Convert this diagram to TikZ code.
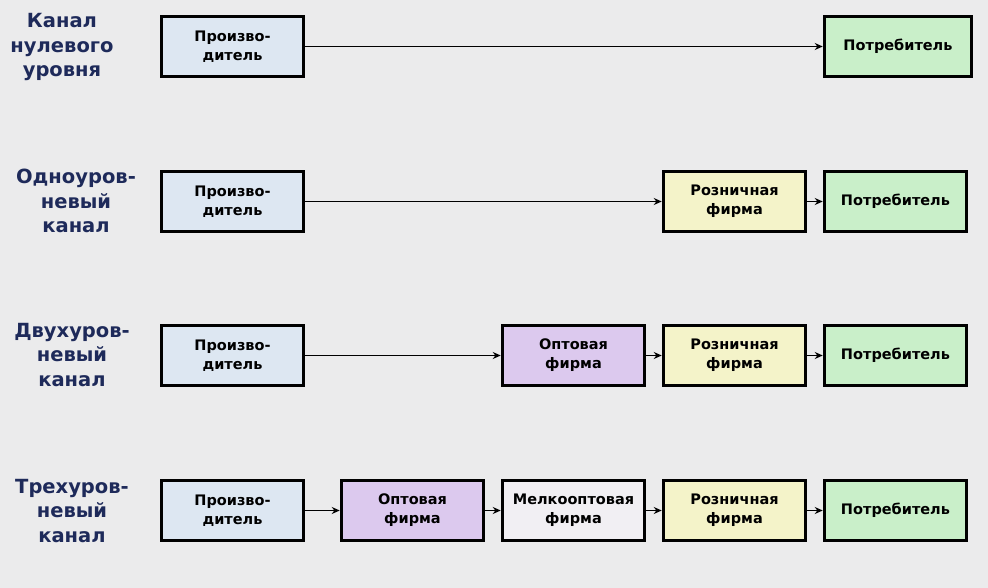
\documentclass[tikz,border=0pt]{standalone}
\usepackage{fontspec}
\setmainfont{DejaVu Sans}
\usetikzlibrary{arrows.meta}
\definecolor{bgc}{HTML}{EBEBEC}
\definecolor{lblc}{HTML}{1E2A5A}
\definecolor{prodc}{HTML}{DDE7F2}
\definecolor{wholec}{HTML}{DCC9EE}
\definecolor{smallc}{HTML}{F1EFF3}
\definecolor{retailc}{HTML}{F4F3C9}
\definecolor{consc}{HTML}{C9EFC9}
\tikzset{
  x=1pt,y=-1pt,
  boxst/.style={draw=black,line width=3.5pt,minimum width=142pt,minimum height=60pt,
    align=center,font=\bfseries\fontsize{14.5}{19}\selectfont,inner sep=0pt},
  lbl/.style={align=center,text=lblc,font=\bfseries\fontsize{19.5}{24.5}\selectfont},
  arr/.style={line width=1.6pt,-{Stealth[length=8pt,width=7pt]}}
}
\begin{document}
\begin{tikzpicture}
\fill[bgc] (0,0) rectangle (988,588);
\useasboundingbox (0,0) rectangle (988,588);
% row 1
\node[lbl] (l1) at (62,47) {Канал\\нулевого\\уровня};
\node[boxst,fill=prodc] (p1) at (232.5,46.5) {Произво-\\дитель};
\node[boxst,fill=consc,minimum width=147pt] (c1) at (898,46.5) {Потребитель};
\draw[arr] (p1) -- (c1);
% row 2
\node[lbl] (l2) at (76,201) {Одноуров-\\невый\\канал};
\node[boxst,fill=prodc] (p2) at (232.5,201.5) {Произво-\\дитель};
\node[boxst,fill=retailc] (r2) at (734.5,201.5) {Розничная\\фирма};
\node[boxst,fill=consc] (c2) at (895.5,201.5) {Потребитель};
\draw[arr] (p2) -- (r2);
\draw[arr] (r2) -- (c2);
% row 3
\node[lbl] (l3) at (72,355) {Двухуров-\\невый\\канал};
\node[boxst,fill=prodc] (p3) at (232.5,355.5) {Произво-\\дитель};
\node[boxst,fill=wholec] (w3) at (573.5,355.5) {Оптовая\\фирма};
\node[boxst,fill=retailc] (r3) at (734.5,355.5) {Розничная\\фирма};
\node[boxst,fill=consc] (c3) at (895.5,355.5) {Потребитель};
\draw[arr] (p3) -- (w3);
\draw[arr] (w3) -- (r3);
\draw[arr] (r3) -- (c3);
% row 4
\node[lbl] (l4) at (72,511) {Трехуров-\\невый\\канал};
\node[boxst,fill=prodc] (p4) at (232.5,510.5) {Произво-\\дитель};
\node[boxst,fill=wholec] (w4) at (412.5,510.5) {Оптовая\\фирма};
\node[boxst,fill=smallc] (s4) at (573.5,510.5) {Мелкооптовая\\фирма};
\node[boxst,fill=retailc] (r4) at (734.5,510.5) {Розничная\\фирма};
\node[boxst,fill=consc] (c4) at (895.5,510.5) {Потребитель};
\draw[arr] (p4) -- (w4);
\draw[arr] (w4) -- (s4);
\draw[arr] (s4) -- (r4);
\draw[arr] (r4) -- (c4);
\end{tikzpicture}
\end{document}
